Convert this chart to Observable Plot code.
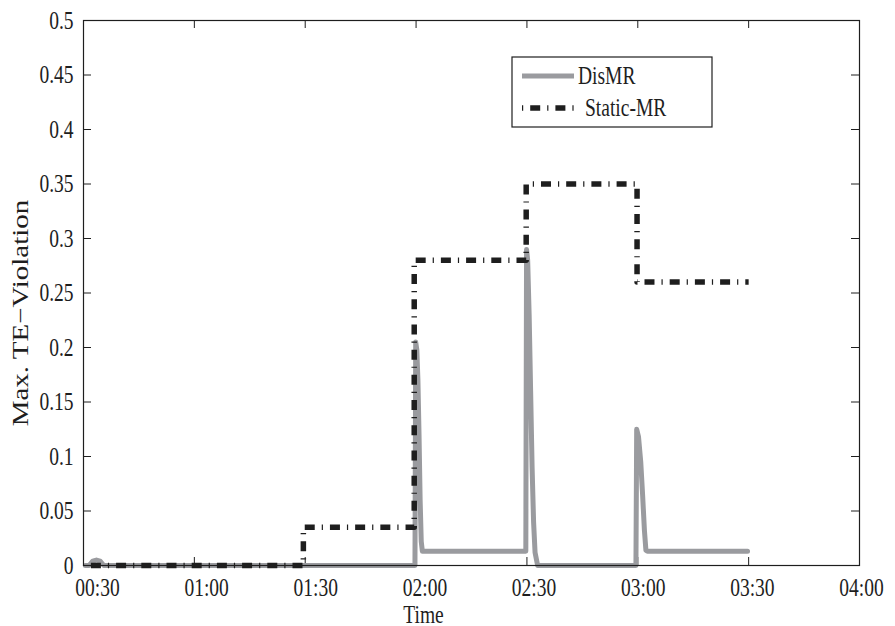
<!DOCTYPE html>
<html>
<head>
<meta charset="utf-8">
<script src="https://cdn.jsdelivr.net/npm/d3@7"></script>
<script src="https://cdn.jsdelivr.net/npm/@observablehq/plot@0.6"></script>
<style>
  html, body { margin: 0; padding: 0; background: #fff; }
  #chart svg { display: block; }
</style>
</head>
<body>
<div id="chart"></div>
<script>
// Time is in minutes after midnight.
const xTicks = [30, 60, 90, 120, 150, 180, 210, 240];
const xTickLabels = ["00:30", "01:00", "01:30", "02:00", "02:30", "03:00", "03:30", "04:00"];
const yTicks = [0, 0.05, 0.1, 0.15, 0.2, 0.25, 0.3, 0.35, 0.4, 0.45, 0.5];
const yTickLabels = ["0", "0.05", "0.1", "0.15", "0.2", "0.25", "0.3", "0.35", "0.4", "0.45", "0.5"];

// Static-MR: piecewise-constant violation (value holds until the next time)
const staticTime  = [32, 89.5, 119.5, 149.8, 179.8, 210];
const staticValue = [0, 0.035, 0.28, 0.35, 0.26, 0.26];

// DisMR: short spikes that decay quickly after each reconfiguration
const disTime = [30.5, 31.5, 32.5, 33.5, 34.5, 35.5, 36.5, 119.7, 119.9, 120.2, 120.5, 120.8, 121.1, 121.4, 121.7,
                 149.7, 149.9, 150.2, 150.6, 151.0, 151.4, 151.8, 152.2, 152.9,
                 179.5, 179.7, 180.2, 180.8, 181.3, 181.8, 182.2, 182.6, 209.7];
const disValue = [0, 0, 0.004, 0.005, 0.004, 0, 0, 0, 0.205, 0.198, 0.17, 0.12, 0.06, 0.022, 0.013,
                  0.013, 0.29, 0.28, 0.23, 0.16, 0.09, 0.04, 0.012, 0,
                  0, 0.125, 0.118, 0.095, 0.065, 0.032, 0.014, 0.013, 0.013];

const staticData = staticTime.map((t, i) => ({t, v: staticValue[i]}));
const disData = disTime.map((t, i) => ({t, v: disValue[i]}));

const font = "Liberation Serif";
const ink = "#1e1e1e";
const grey = "#9a9b9f";
const squeeze = 0.78;   // the serif text is set narrow

const xDomain = [30, 240];
const yDomain = [0, 0.5];
const W = 895, H = 626, mL = 83, mR = 36, mT = 20, mB = 61;
// inward tick length, expressed through the scales
const tickPx = 8;
const xTickLen = tickPx * (xDomain[1] - xDomain[0]) / (W - mL - mR);
const yTickLen = tickPx * (yDomain[1] - yDomain[0]) / (H - mT - mB);

const textStyle = {fontSize: 25, fontFamily: font, fill: ink, lineAnchor: "middle"};

// time labels sit a little right of their ticks, less so toward the right end
const xLabelMarks = xTicks.map((t, i) =>
  Plot.text([t], {x: d => d, text: () => xTickLabels[i], frameAnchor: "bottom",
    textAnchor: "middle", dy: 22, dx: 14 - 12 * i / (xTicks.length - 1), ...textStyle}));

const chart = Plot.plot({
  width: W,
  height: H,
  marginLeft: mL,
  marginRight: mR,
  marginTop: mT,
  marginBottom: mB,
  style: {fontFamily: font, fontSize: "25px", color: ink, background: "#fff"},
  x: {domain: xDomain, axis: null},
  y: {domain: yDomain, axis: null},
  marks: [
    ...xLabelMarks,
    Plot.text(yTicks, {y: d => d, text: (d, i) => yTickLabels[i], frameAnchor: "left",
      textAnchor: "end", dx: -10, ...textStyle}),
    // inward ticks on all four sides
    Plot.ruleX(xTicks, {x: d => d, y1: yDomain[0], y2: yDomain[0] + yTickLen, stroke: ink, strokeWidth: 1}),
    Plot.ruleX(xTicks, {x: d => d, y1: yDomain[1] - yTickLen, y2: yDomain[1], stroke: ink, strokeWidth: 1}),
    Plot.ruleY(yTicks, {y: d => d, x1: xDomain[0], x2: xDomain[0] + xTickLen, stroke: ink, strokeWidth: 1}),
    Plot.ruleY(yTicks, {y: d => d, x1: xDomain[1] - xTickLen, x2: xDomain[1], stroke: ink, strokeWidth: 1}),
    // DisMR
    Plot.line(disData, {x: "t", y: "v", stroke: grey, strokeWidth: 5, strokeLinejoin: "round", curve: "linear"}),
    // Static-MR, dash-dot
    Plot.line(staticData, {x: "t", y: "v", stroke: ink, strokeWidth: 5.5, curve: "step-after",
      strokeDasharray: "10,7,1.2,7", strokeLinecap: "butt"}),
    Plot.frame({stroke: ink, strokeWidth: 1.2}),
    Plot.text(["Time"], {frameAnchor: "bottom", textAnchor: "middle", dy: 49, dx: -48, ...textStyle}),
    Plot.text(["Max. TE\u2212Violation"], {frameAnchor: "left", textAnchor: "middle", dx: -63, dy: 20,
      rotate: -90, ...textStyle, fontSize: 29})
  ]
});

document.getElementById("chart").append(chart);

// legend box in the upper middle of the frame
const svg = d3.select(chart);
const lg = svg.append("g").attr("font-family", font).attr("font-size", 25)
  .attr("fill", ink).attr("text-anchor", "start");
lg.append("rect").attr("x", 512).attr("y", 57).attr("width", 200).attr("height", 70)
  .attr("fill", "#fff").attr("stroke", ink).attr("stroke-width", 1.2);
const legendItems = [
  {name: "DisMR", stroke: grey, width: 5, dash: null, y: 76, tx: 578},
  {name: "Static-MR", stroke: ink, width: 5.5, dash: "1.2,7,10,7", y: 108, tx: 585}
];
legendItems.forEach(d => {
  lg.append("line").attr("x1", 522).attr("x2", 574).attr("y1", d.y).attr("y2", d.y)
    .attr("stroke", d.stroke).attr("stroke-width", d.width).attr("stroke-dasharray", d.dash);
  lg.append("text").attr("x", d.tx).attr("y", d.y).attr("dy", "0.33em").text(d.name);
});

// narrow the serif lettering: horizontal text by its length, the rotated label across its glyphs
svg.selectAll("text").each(function() {
  const t = d3.select(this);
  const tr = t.attr("transform") || "";
  if (tr.includes("rotate")) {
    t.attr("transform", tr + ` scale(1,${squeeze})`);
  } else {
    const len = this.getComputedTextLength();
    t.attr("textLength", len * squeeze).attr("lengthAdjust", "spacingAndGlyphs");
  }
});
</script>
</body>
</html>
